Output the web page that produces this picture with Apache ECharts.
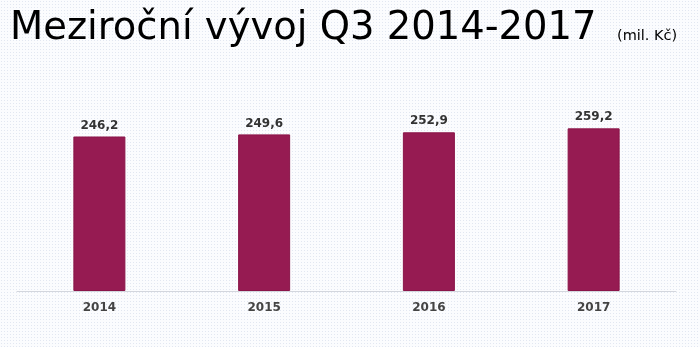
<!DOCTYPE html>
<html>
<head>
<meta charset="utf-8">
<script src="https://cdn.jsdelivr.net/npm/echarts@6/dist/echarts.min.js"></script>
<style>
  html, body { margin: 0; padding: 0; }
  body {
    width: 700px; height: 347px;
    background-color: #fbfcfe;
    background-image: radial-gradient(circle, #e2e7f1 0.8px, transparent 1px);
    background-size: 3px 3px;
  }
  #chart { width: 700px; height: 347px; }
</style>
</head>
<body>
<div id="chart"></div>
<script>
// Year-on-year Q3 figures, millions CZK
const years = ['2014', '2015', '2016', '2017'];
const values = [246.2, 249.6, 252.9, 259.2];

const chart = echarts.init(document.getElementById('chart'), null, { renderer: 'canvas' });

chart.setOption({
  backgroundColor: 'transparent',
  animation: false,
  title: [
    {
      text: 'Meziroční vývoj Q3 2014-2017',
      left: 5,
      top: 4,
      textStyle: {
        fontFamily: 'DejaVu Sans',
        fontSize: 38.5,
        fontWeight: 'normal',
        color: '#000'
      }
    },
    {
      text: '(mil. Kč)',
      left: 612,
      top: 24,
      textStyle: {
        fontFamily: 'DejaVu Sans',
        fontSize: 14.5,
        fontWeight: 'normal',
        color: '#000'
      }
    }
  ],
  grid: { left: 17, right: 24, top: 40, bottom: 56 },
  xAxis: {
    type: 'category',
    data: years,
    axisLine: { lineStyle: { color: '#d3d6dd', width: 1 } },
    axisTick: { show: false },
    axisLabel: {
      margin: 11,
      fontFamily: 'DejaVu Sans',
      fontWeight: 'bold',
      fontSize: 12,
      color: '#444'
    }
  },
  yAxis: {
    type: 'value',
    min: 0,
    max: 400,
    show: false,
    splitLine: { show: false }
  },
  series: [{
    type: 'bar',
    data: values,
    barWidth: 52,
    itemStyle: { color: '#961b52', borderColor: '#8a1549', borderWidth: 1 },
    label: {
      show: true,
      position: 'top',
      distance: 5,
      formatter: p => p.value.toFixed(1).replace('.', ','),
      fontFamily: 'DejaVu Sans',
      fontWeight: 'bold',
      fontSize: 12,
      color: '#333'
    }
  }]
});
</script>
</body>
</html>
